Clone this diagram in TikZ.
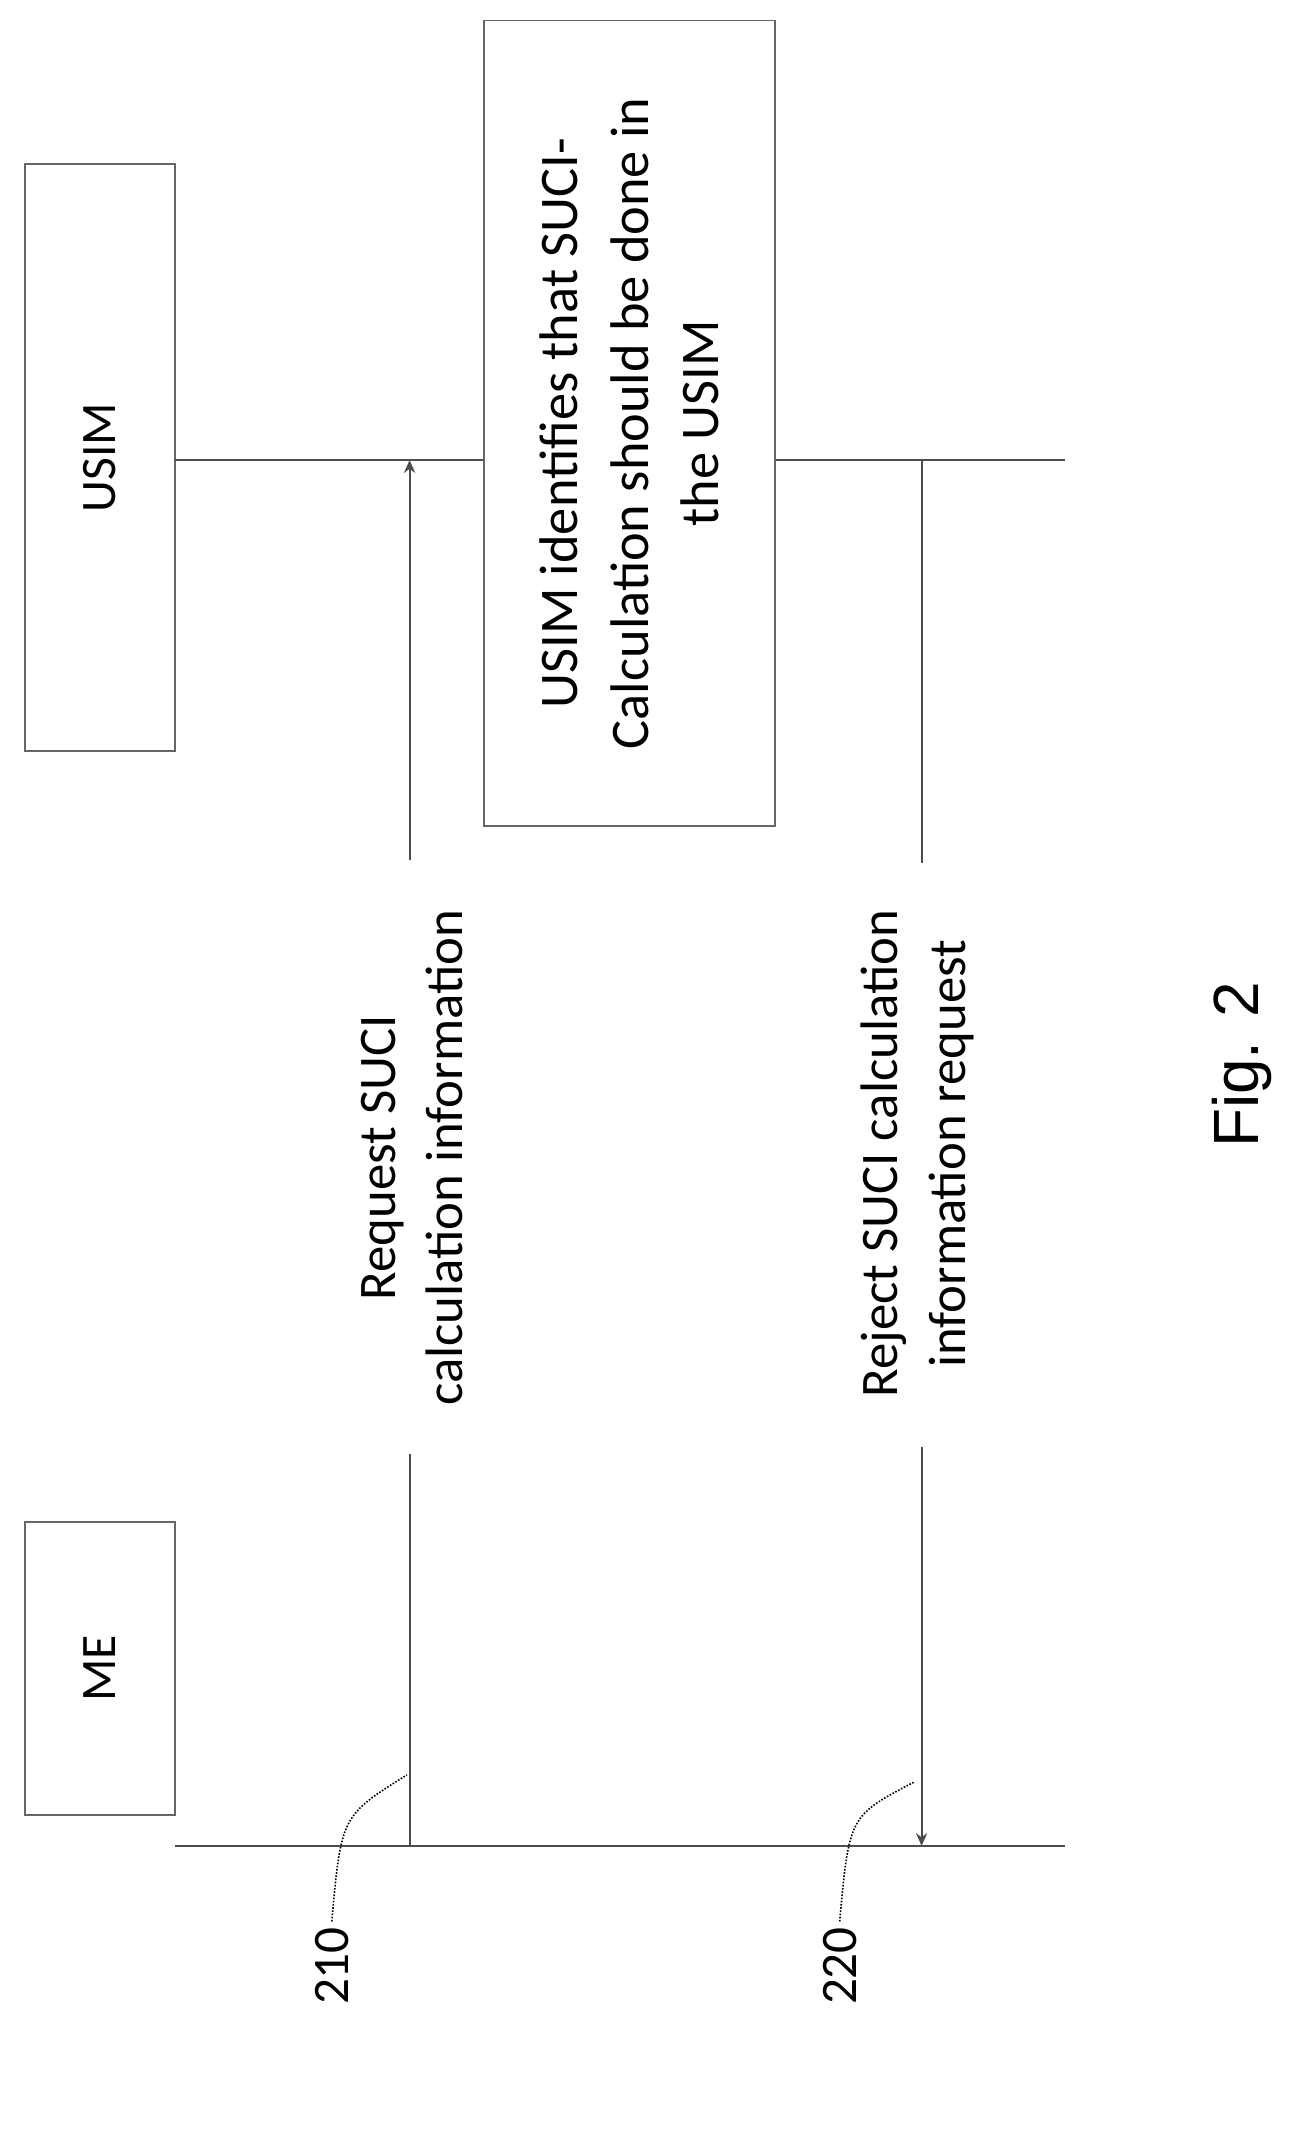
\documentclass[tikz,border=0pt]{standalone}
\usepackage{fontspec}
\setmainfont{Carlito}
\newfontfamily\arialf{Liberation Sans}
\usetikzlibrary{arrows.meta}
\begin{document}
\begin{tikzpicture}[x=0.03cm,y=-0.03cm,
  bx/.style={draw=black!60,line width=1.2pt,rotate=90,inner sep=0pt,font=\fontsize{31}{36}\selectfont},
  ln/.style={draw=black!70,line width=1.2pt},
  msg/.style={ln,-{Stealth[length=8pt,width=7pt]}},
  lbl/.style={rotate=90,align=center,font=\fontsize{33}{42}\selectfont},
  lead/.style={draw=black,line width=1pt,densely dotted}]
\useasboundingbox (0,0) rectangle (960,1574);
\node[bx,minimum width=215*0.03cm,minimum height=110*0.03cm] (me) at (73,1222) {ME};
\node[bx,minimum width=430*0.03cm,minimum height=110*0.03cm] (usim) at (73,335) {USIM};
\node[bx,align=center,font=\fontsize{34}{44}\selectfont,minimum width=590*0.03cm,minimum height=213*0.03cm] (act) at (461,310) {USIM identifies that SUCI-\\Calculation should be done in\\the USIM};
\coordinate (meS) at (128,1352); \coordinate (meE) at (780,1352);
\coordinate (usS) at (128,337); \coordinate (usE) at (780,337);
\draw[ln] (meS) -- (meE);
\draw[ln] (usS) -- (act.north|-usS);
\draw[ln] (act.south|-usS) -- (usE);
\node[lbl] (t1) at (302,848) {Request SUCI\\calculation information};
\node[lbl] (t2) at (672,845) {Reject SUCI calculation\\information request};
\coordinate (a1) at (300,1352); \coordinate (b1) at (300,337);
\coordinate (a2) at (675,337); \coordinate (b2) at (675,1352);
\draw[ln] (a1) -- (300,1065);
\draw[msg] (300,630) -- (b1);
\draw[ln] (a2) -- (675,632);
\draw[msg] (675,1060) -- (b2);
\node[font=\fontsize{32}{36}\selectfont,rotate=90] (n210) at (243,1440) {210};
\node[font=\fontsize{32}{36}\selectfont,rotate=90] (n220) at (615,1440) {220};
\draw[lead] (n210.east) .. controls (250,1330) .. (298,1300);
\draw[lead] (n220.east) .. controls (622,1330) .. (670,1305);
\node[font=\arialf\fontsize{40}{48}\selectfont,rotate=90] (fig) at (910,780) {Fig. 2};
\end{tikzpicture}
\end{document}
